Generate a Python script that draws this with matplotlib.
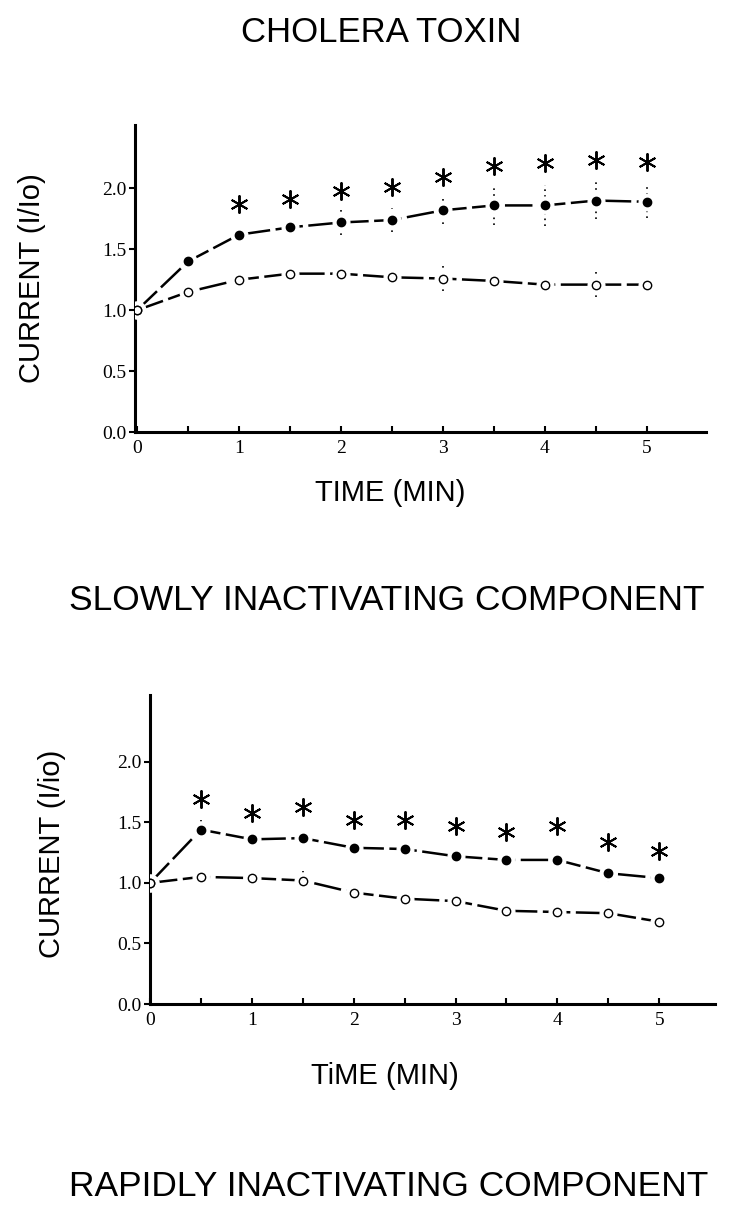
import numpy as np
import matplotlib.pyplot as plt

# time points (min)
t = [0, 0.5, 1.0, 1.5, 2.0, 2.5, 3.0, 3.5, 4.0, 4.5, 5.0]
t_star = [1.0, 1.5, 2.0, 2.5, 3.0, 3.5, 4.0, 4.5, 5.0]

# slowly inactivating component
slow_ctx = [1.0, 1.40, 1.62, 1.68, 1.72, 1.74, 1.82, 1.86, 1.86, 1.90, 1.89]
slow_ctx_err = [0, 0, 0, 0.04, 0.10, 0.10, 0.11, 0.16, 0.17, 0.15, 0.13]
slow_ctl = [1.0, 1.15, 1.25, 1.30, 1.30, 1.27, 1.26, 1.24, 1.21, 1.21, 1.21]
slow_ctl_err = [0, 0, 0, 0, 0, 0.05, 0.10, 0.03, 0, 0.10, 0]
slow_star = [1.87, 1.91, 1.98, 2.01, 2.09, 2.18, 2.21, 2.23, 2.22]

# rapidly inactivating component
t_star2 = [0.5, 1.0, 1.5, 2.0, 2.5, 3.0, 3.5, 4.0, 4.5, 5.0]
rapid_ctx = [1.0, 1.44, 1.36, 1.37, 1.29, 1.28, 1.22, 1.19, 1.19, 1.08, 1.04]
rapid_ctx_err = [0, 0.08, 0, 0.06, 0, 0.06, 0.06, 0, 0.05, 0.07, 0.05]
rapid_ctl = [1.0, 1.05, 1.04, 1.02, 0.92, 0.87, 0.85, 0.77, 0.76, 0.75, 0.68]
rapid_ctl_err = [0, 0, 0, 0.08, 0, 0, 0.07, 0, 0, 0.05, 0]
rapid_star = [1.69, 1.58, 1.63, 1.52, 1.52, 1.47, 1.42, 1.47, 1.34, 1.26]

TITLE_FONT = "Liberation Sans"
NUM_FONT = "Liberation Serif"

fig = plt.figure(figsize=(7.34, 12.16), dpi=100)


def draw_panel(ax, y1, e1, y2, e2, ts, stars, ylabel, xlab, xlim, ylim,
               ylab_pos, xlab_pos):
    ax.set_xlim(*xlim)
    ax.set_ylim(*ylim)
    for s in ["top", "right"]:
        ax.spines[s].set_visible(False)
    for s in ["left", "bottom"]:
        ax.spines[s].set_linewidth(2.2)

    # dotted error bars
    ax.vlines(t, np.array(y1) - e1, np.array(y1) + e1, colors="k",
              linestyles=(0, (1, 2.5)), linewidth=1.2, zorder=1)
    ax.vlines(t, np.array(y2) - e2, np.array(y2) + e2, colors="k",
              linestyles=(0, (1, 2.5)), linewidth=1.2, zorder=1)

    for y in (y1, y2):
        ax.plot(t, y, color="k", lw=1.8, ls=(0, (11, 2.2)), zorder=2)
        # white halo breaks the line around each point
        ax.plot(t, y, ls="none", marker="o", ms=12, mfc="white",
                mec="white", zorder=3)
    ax.plot(t, y1, ls="none", marker="o", ms=6, mfc="k", mec="k", zorder=4)
    ax.plot(t, y2, ls="none", marker="o", ms=6, mfc="white", mec="k",
            mew=1.0, zorder=4)

    ax.plot(ts, stars, ls="none", marker=(6, 2, 0), ms=13, mew=1.4,
            color="k", zorder=4)

    ax.set_yticks([0.0, 0.5, 1.0, 1.5, 2.0])
    ax.set_yticklabels(["0.0", "0.5", "1.0", "1.5", "2.0"],
                       fontfamily=NUM_FONT, fontsize=14)
    ax.set_xticks([0, 1, 2, 3, 4, 5])
    ax.set_xticklabels(["0", "1", "2", "3", "4", "5"],
                       fontfamily=NUM_FONT, fontsize=14)
    ax.set_xticks([0.5, 1.5, 2.5, 3.5, 4.5], minor=True)
    ax.tick_params(axis="y", direction="out", length=4, width=1.5, pad=2)
    ax.tick_params(axis="x", which="both", direction="in", length=4,
                   width=1.5, pad=6)

    ax.set_ylabel(ylabel, fontfamily=TITLE_FONT, fontsize=21)
    ax.set_xlabel(xlab, fontfamily=TITLE_FONT, fontsize=21)
    ax.yaxis.set_label_coords(*ylab_pos)
    ax.xaxis.set_label_coords(*xlab_pos)


ax1 = fig.add_axes([0.184, 0.6447, 0.778, 0.2525])
draw_panel(ax1, slow_ctx, slow_ctx_err, slow_ctl, slow_ctl_err,
           t_star, slow_star, "CURRENT (I/Io)", "TIME (MIN)",
           (-0.02, 5.58), (0, 2.52), (-0.156, 0.50), (0.447, -0.154))

ax2 = fig.add_axes([0.2044, 0.1743, 0.770, 0.254])
draw_panel(ax2, rapid_ctx, rapid_ctx_err, rapid_ctl, rapid_ctl_err,
           t_star2, rapid_star, "CURRENT (I/io)", "TiME (MIN)",
           (0, 5.55), (0, 2.55), (-0.148, 0.485), (0.416, -0.188))

fig.text(0.519, 1 - 32 / 1216, "CHOLERA TOXIN", ha="center", va="center",
         fontfamily=TITLE_FONT, fontsize=25)
fig.text(0.527, 1 - 600 / 1216, "SLOWLY INACTIVATING COMPONENT",
         ha="center", va="center", fontfamily=TITLE_FONT, fontsize=25.5)
fig.text(0.529, 1 - 1186 / 1216, "RAPIDLY INACTIVATING COMPONENT",
         ha="center", va="center", fontfamily=TITLE_FONT, fontsize=25.5)

fig.savefig("out.png", dpi=100)
